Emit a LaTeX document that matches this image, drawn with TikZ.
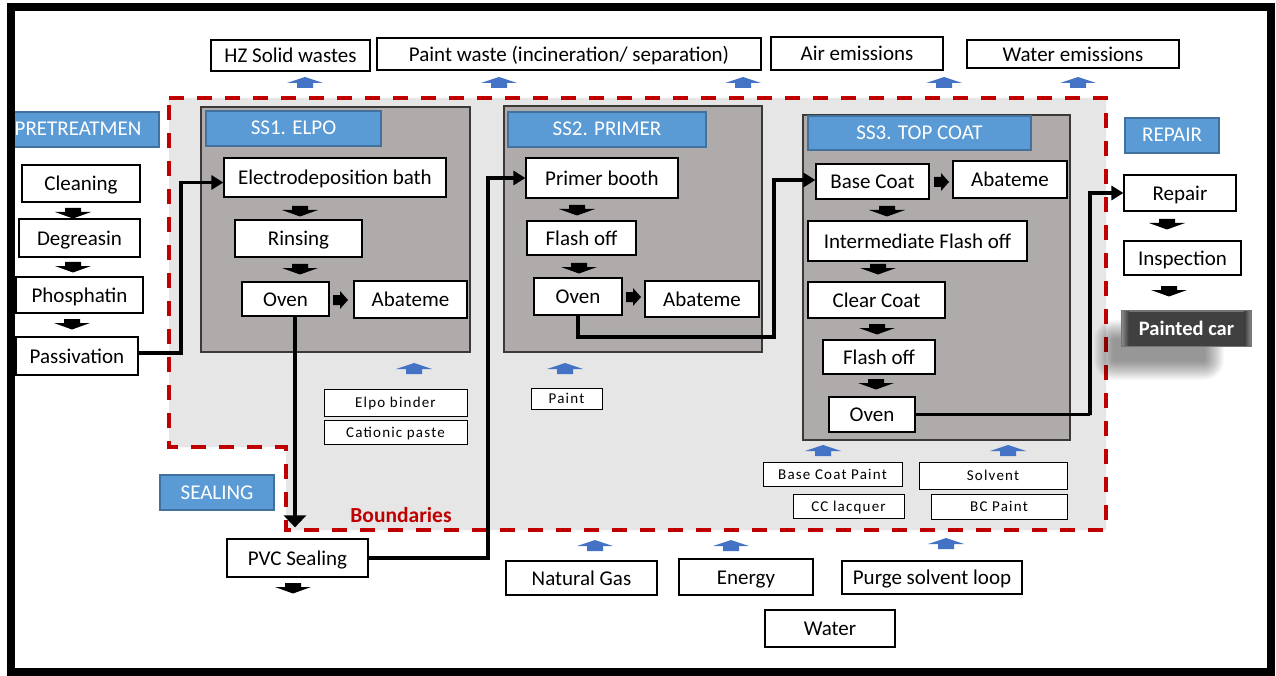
\documentclass[tikz,border=0pt]{standalone}
\usepackage{fontspec}
\setmainfont{Carlito}
\newfontfamily\inputfont[LetterSpace=8]{Carlito}
\usetikzlibrary{arrows.meta}
\definecolor{bluefill}{HTML}{5B9BD5}
\definecolor{blueedge}{HTML}{41719C}
\definecolor{arrowblue}{HTML}{4472C4}
\definecolor{subfill}{HTML}{AFABAB}
\definecolor{subedge}{HTML}{3B3838}
\definecolor{boundfill}{HTML}{E6E6E6}
\definecolor{boundred}{HTML}{C00000}
\definecolor{carfill}{HTML}{404040}

\begin{document}
\begin{tikzpicture}[x=1pt,y=-1pt,
  pbox/.style={draw=black, line width=1.2pt, fill=white, inner sep=0pt,
    text height=15pt, text depth=0.5pt, font=\fontsize{21}{25}\selectfont},
  ibox/.style={draw=black, line width=1pt, fill=white, inner sep=0pt,
    text height=10.5pt, text depth=0.5pt, font=\inputfont\fontsize{15}{18}\selectfont},
  lbl/.style={draw=blueedge, line width=1.2pt, fill=bluefill, text=white, inner sep=0pt,
    text height=13.5pt, text depth=0.5pt, font=\fontsize{21}{25}\selectfont},
  wh/.style 2 args={minimum width=#1pt, minimum height=#2pt},
  subbox/.style={draw=subedge, line width=1.3pt, fill=subfill},
  conn/.style={line width=3.5pt, -{Triangle[length=12pt,width=14pt]}},
  downblk/.pic={\fill[black] (-8,0) -- (8,0) -- (8,4) -- (18,4) -- (0,10.5) -- (-18,4) -- (-8,4) -- cycle;},
  rightblk/.pic={\fill[black] (0,-5) -- (7,-5) -- (7,-9) -- (15,0) -- (7,9) -- (7,5) -- (0,5) -- cycle;},
  upblu/.pic={\fill[arrowblue] (0,0) -- (18,6) -- (8,6) -- (8,11) -- (-8,11) -- (-8,6) -- (-18,6) -- cycle;}
]
\useasboundingbox (0,0) rectangle (1276,676);
\fill[white] (0,0) rectangle (1276,676);

% system boundary
\fill[boundfill] (169,98) -- (1106,98) -- (1106,530) -- (286,530) -- (286,447) -- (169,447) -- cycle;
\draw[boundred, line width=4pt, dash pattern=on 15pt off 13pt]
  (169,98) -- (1106,98) -- (1106,530) -- (286,530) -- (286,447) -- (169,447) -- cycle;
\node[text=boundred, inner sep=0pt, text height=14pt, text depth=0.5pt,
  font=\bfseries\fontsize{21.5}{25}\selectfont] (bnd) at (401,516) {Boundaries};

% sub-system panels
\draw[subbox] (201,107) rectangle (470,352);
\draw[subbox] (504,106) rectangle (762,352);
\draw[subbox] (803,115) rectangle (1070,440);

% section labels
\node[lbl, wh={149}{35}] (prel) at (84.5,129.5) {\hspace*{-13pt}PRETREATMEN};
\node[lbl, wh={175}{35}] (ss1l) at (293.5,128.5) {SS1. ELPO};
\node[lbl, wh={198}{35}] (ss2l) at (607,129.5) {SS2. PRIMER};
\node[lbl, wh={223}{34}] (ss3l) at (919.5,133) {SS3. TOP COAT};
\node[lbl, wh={94}{35}] (repl) at (1172,135.5) {REPAIR};
\node[lbl, wh={114}{35}] (seall) at (217,492.5) {SEALING};

% outputs
\node[pbox, wh={159}{31}] (hz) at (290.5,55.5) {HZ Solid wastes};
\node[pbox, wh={384}{32}] (pw) at (569,54) {Paint waste (incineration/ separation)};
\node[pbox, wh={172}{33}] (air) at (857,53.5) {Air emissions};
\node[pbox, wh={212}{28}] (wem) at (1073,54) {Water emissions};

% pretreatment
\node[pbox, wh={118}{37}] (clean) at (81,183.5) {Cleaning};
\node[pbox, wh={121}{38}] (degr) at (79.5,238) {Degreasin};
\node[pbox, wh={127}{36}] (phos) at (79.5,295) {Phosphatin};
\node[pbox, wh={122}{38}] (pass) at (77,356) {Passivation};

% SS1 ELPO
\node[pbox, wh={222}{39}] (edb) at (335,177.5) {Electrodeposition bath};
\node[pbox, wh={127}{37}] (rins) at (298.5,238.5) {Rinsing};
\node[pbox, wh={87}{34}] (oven1) at (285.5,299) {Oven};
\node[pbox, wh={113}{37}] (abat1) at (410.5,299.5) {Abateme};

% SS2 PRIMER
\node[pbox, wh={152}{40}] (pb) at (602,178) {Primer booth};
\node[pbox, wh={109}{34}] (fl2) at (581.5,238) {Flash off};
\node[pbox, wh={88}{37}] (oven2) at (578,296.5) {Oven};
\node[pbox, wh={114}{36}] (abat2) at (702,299) {Abateme};

% SS3 TOP COAT
\node[pbox, wh={113}{35}] (bc) at (872.5,181.5) {Base Coat};
\node[pbox, wh={114}{37}] (abat3) at (1010,179.5) {Abateme};
\node[pbox, wh={219}{40}] (ifo) at (917.5,241) {Intermediate Flash off};
\node[pbox, wh={137}{36}] (cc) at (876.5,300) {Clear Coat};
\node[pbox, wh={112}{34}] (fl3) at (879,357) {Flash off};
\node[pbox, wh={86}{35}] (oven3) at (872,414.5) {Oven};

% repair
\node[pbox, wh={112}{36}] (rep) at (1180,193) {Repair};
\node[pbox, wh={117}{34}] (insp) at (1182.5,258) {Inspection};

% sealing
\node[pbox, wh={141}{38}] (pvc) at (297.5,558) {PVC Sealing};

% material inputs
\node[ibox, wh={143}{27}] (elpo) at (395.5,402.5) {Elpo binder};
\node[ibox, wh={143}{24}] (cat) at (395.5,432) {Cationic paste};
\node[ibox, wh={71}{21}] (paint) at (566.5,398.5) {Paint};
\node[ibox, wh={139}{24}] (bcp) at (832.5,474) {Base Coat Paint};
\node[ibox, wh={111}{24}] (ccl) at (848.5,506) {CC lacquer};
\node[ibox, wh={148}{27}] (solv) at (993,475.5) {Solvent};
\node[ibox, wh={136}{25}] (bcpt) at (999,506.5) {BC Paint};

% utilities
\node[pbox, wh={151}{34}] (ng) at (581.5,578) {Natural Gas};
\node[pbox, wh={134}{36}] (en) at (746,577) {Energy};
\node[pbox, wh={180}{33}] (psl) at (932,577.5) {Purge solvent loop};
\node[pbox, wh={130}{37}] (wat) at (830,628.5) {Water};

% soft shadow under the finished car
\foreach \k in {0,...,19}
  \fill[black, opacity=0.022, rounded corners={(20-\k)*1pt}]
    ({1114-20+\k},{340-20+\k}) rectangle ({1204+20-\k},{360+20-\k});
\node[draw=black!55, line width=1pt, fill=carfill, inner sep=0pt, wh={129}{35}] (car) at (1186.5,328.5) {};
\shade[left color=black!45, right color=carfill] (car.north west) rectangle ([xshift=7pt]car.south west);
\shade[left color=carfill, right color=black!45] ([xshift=-7pt]car.north east) rectangle (car.south east);
\draw[black!55, line width=1pt] (car.north west) rectangle (car.south east);
\node[text=white, inner sep=0pt, text height=14pt, text depth=0.5pt,
  font=\bfseries\fontsize{20.5}{24}\selectfont] (cartext) at (car.center) {Painted car};

% process flow connectors
\coordinate (k1) at (181,353);
\coordinate (k3) at (488,558);
\coordinate (k4) at (774,337);
\coordinate (k5) at (1090,415);
\draw[conn] ([yshift=3pt]pass.east) -| (k1) |- ([yshift=-5pt]edb.west);
\draw[line width=3.5pt, -{Triangle[length=12pt,width=22pt]}]
  ([xshift=9.5pt]oven1.south) -- ([xshift=-2.5pt,yshift=11pt]pvc.north);
\draw[conn] (pvc.east) -- (k3) |- (pb.west);
\draw[conn] (oven2.south) |- (k4) |- ([yshift=1.5pt]bc.west);
\draw[conn] (oven3.east) -| (k5) |- (rep.west);

% step arrows
\pic at (73,208) {downblk};
\pic at (73,262) {downblk};
\pic at (72,319) {downblk};
\pic at (300,206) {downblk};
\pic at (300,264) {downblk};
\pic at (577,205) {downblk};
\pic at (579,263) {downblk};
\pic at (887,206) {downblk};
\pic at (878,264) {downblk};
\pic at (877,324) {downblk};
\pic at (876,379) {downblk};
\pic at (1167,219) {downblk};
\pic at (1169,286) {downblk};
\pic at (293,583) {downblk};
\pic at (333,300) {rightblk};
\pic at (626,297) {rightblk};
\pic at (934,182) {rightblk};

% flows across the boundary
\pic at (305,77) {upblu};
\pic at (499,77) {upblu};
\pic at (743,77) {upblu};
\pic at (944,77) {upblu};
\pic at (1078,77) {upblu};
\pic at (414,363) {upblu};
\pic at (565,363) {upblu};
\pic at (823,445) {upblu};
\pic at (1008,445) {upblu};
\pic at (595,540) {upblu};
\pic at (731,540) {upblu};
\pic at (946,538) {upblu};

% frame
\draw[line width=8.5pt] (11,7) rectangle (1271,672);
\end{tikzpicture}
\end{document}
